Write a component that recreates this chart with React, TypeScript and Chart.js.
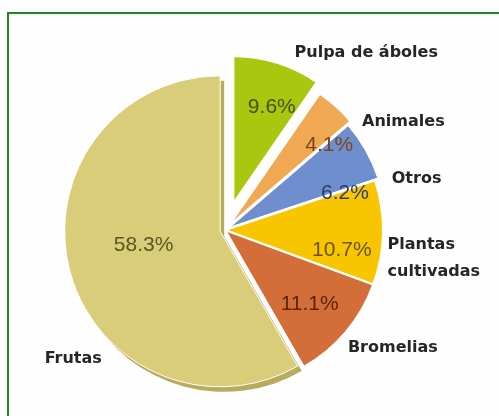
import { useEffect, useRef } from 'react';
import { Chart, registerables } from 'chart.js';

Chart.register(...registerables);

// ---- data ----
const categories = ['Pulpa de áboles', 'Animales', 'Otros', 'Plantas cultivadas', 'Bromelias', 'Frutas'];
const categoryLines = [['Pulpa de áboles'], ['Animales'], ['Otros'], ['Plantas', 'cultivadas'], ['Bromelias'], ['Frutas']];
const values = [9.6, 4.1, 6.2, 10.7, 11.1, 58.3];
const percentLabels = ['9.6%', '4.1%', '6.2%', '10.7%', '11.1%', '58.3%'];

// ---- styles ----
const sliceColors = ['#a9c70f', '#f1a853', '#6f8ecd', '#f7c600', '#d46e38', '#dacd7a'];
const percentColors = ['#44520e', '#7a4518', '#2c3d6e', '#6a5208', '#5e2410', '#5a5622'];
const shadowColors = [null, null, null, null, null, '#b8ac5c'];

// ---- layout (explode distance, scale, label placement) ----
const EXPLODE = [30, 10, 6, 2, 2, 5];
const SCALE = [0.93, 1, 1, 1, 1, 1];
const INNER = [
  { f: 0.7, dA: 4.7 },
  { f: 0.8, dA: 9.7 },
  { f: 0.77, dA: 13 },
  { f: 0.75, dA: 9 },
  { f: 0.71, dA: 1 },
  { f: 0.5, dA: 5 },
];
const OUTER = [
  { gap: 16, dA: 4.9, align: 'left' },
  { gap: 9, dA: 10.5, align: 'left' },
  { gap: 13, dA: 13, align: 'left' },
  { gap: 7.5, dA: 9, align: 'left' },
  { gap: 12.5, dA: 3.6, align: 'left' },
  { gap: 39, dA: -26, align: 'center' },
];

const DEG = Math.PI / 180;

function geom(arc: any, i: number) {
  const { x, y, startAngle, endAngle, outerRadius } = arc;
  const mid = (startAngle + endAngle) / 2;
  const cx = x + Math.cos(mid) * EXPLODE[i];
  const cy = y + Math.sin(mid) * EXPLODE[i];
  return { x, y, cx, cy, mid, r: outerRadius * SCALE[i], startAngle, endAngle };
}

const explodePlugin = {
  id: 'explodeDraw',
  beforeDatasetDraw(chart: any, args: any) {
    const ctx = chart.ctx;
    const arcs = args.meta.data;
    // 3D shadow
    arcs.forEach((arc: any, i: number) => {
      if (!shadowColors[i]) return;
      const g = geom(arc, i);
      ctx.save();
      ctx.translate(g.cx + 4, g.cy + 5);
      ctx.beginPath();
      ctx.moveTo(0, 0);
      ctx.arc(0, 0, g.r, g.startAngle, g.endAngle);
      ctx.closePath();
      ctx.fillStyle = shadowColors[i] as string;
      ctx.fill();
      ctx.restore();
    });
    arcs.forEach((arc: any, i: number) => {
      const g = geom(arc, i);
      ctx.save();
      ctx.translate(g.cx, g.cy);
      ctx.scale(SCALE[i], SCALE[i]);
      ctx.translate(-g.x, -g.y);
      arc.draw(ctx);
      ctx.restore();
    });
    return false;
  },
  afterDatasetsDraw(chart: any) {
    const ctx = chart.ctx;
    const arcs = chart.getDatasetMeta(0).data;
    ctx.save();
    ctx.textBaseline = 'middle';
    arcs.forEach((arc: any, i: number) => {
      const g = geom(arc, i);
      // percentage inside
      const a1 = g.mid + INNER[i].dA * DEG;
      const r1 = g.r * INNER[i].f;
      ctx.font = '21px "Liberation Sans", Arial, sans-serif';
      ctx.fillStyle = percentColors[i];
      ctx.textAlign = 'center';
      ctx.fillText(percentLabels[i], g.cx + Math.cos(a1) * r1, g.cy + Math.sin(a1) * r1);
      // category outside
      const o = OUTER[i];
      const a2 = g.mid + o.dA * DEG;
      const r2 = g.r + o.gap;
      const lx = g.cx + Math.cos(a2) * r2;
      const ly = g.cy + Math.sin(a2) * r2;
      ctx.font = 'bold 16px "DejaVu Sans", sans-serif';
      ctx.fillStyle = '#262626';
      ctx.textAlign = o.align;
      const lines = categoryLines[i];
      const lh = 27;
      lines.forEach((line, k) => {
        ctx.fillText(line, lx, ly + (k - (lines.length - 1) / 2) * lh);
      });
    });
    ctx.restore();
  },
};

export default function App() {
  const ref = useRef<HTMLCanvasElement>(null);
  useEffect(() => {
    const chart = new Chart(ref.current as HTMLCanvasElement, {
      type: 'pie',
      data: {
        labels: categories,
        datasets: [
          {
            data: values,
            backgroundColor: sliceColors,
            borderColor: '#ffffff',
            borderWidth: 1,
          },
        ],
      },
      options: {
        animation: false,
        responsive: false,
        devicePixelRatio: 1,
        events: [],
        layout: { padding: { left: 69, top: 74, right: 118, bottom: 30 } },
        plugins: {
          legend: { display: false },
          tooltip: { enabled: false },
          title: { display: false },
        },
      },
      plugins: [explodePlugin as any],
    });
    return () => chart.destroy();
  }, []);
  return (
    <div
      style={{
        position: 'fixed',
        left: 0,
        top: 0,
        width: 499,
        height: 416,
        overflow: 'hidden',
        background: '#fefefe',
      }}
    >
      <div
        style={{
          position: 'absolute',
          left: 7,
          top: 12,
          width: 600,
          height: 600,
          border: '2px solid #1f8a1f',
          boxSizing: 'border-box',
        }}
      />
      <canvas
        ref={ref}
        width={499}
        height={416}
        style={{ position: 'absolute', left: 0, top: 0, width: 499, height: 416 }}
      />
    </div>
  );
}
